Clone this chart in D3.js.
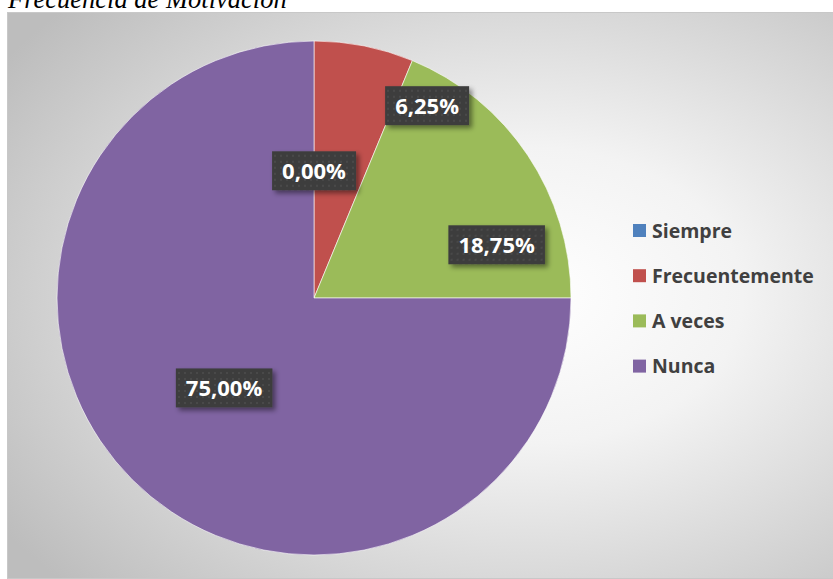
<!DOCTYPE html>
<html>
<head>
<meta charset="utf-8">
<script src="https://cdn.jsdelivr.net/npm/d3@7/dist/d3.min.js"></script>
<style>
  html, body { margin: 0; padding: 0; background: #ffffff; }
  svg { display: block; }
</style>
</head>
<body>
<svg id="chart" width="833" height="579"></svg>
<script>
// Frecuencia de Motivación
const categories = ["Siempre", "Frecuentemente", "A veces", "Nunca"];
const values = [0.00, 6.25, 18.75, 75.00];
const labels = ["0,00%", "6,25%", "18,75%", "75,00%"];
const colors = ["#4F81BD", "#C0504D", "#9BBB59", "#8064A2"];

const W = 833, H = 579;
const svg = d3.select("#chart");
const defs = svg.append("defs");

// chart area background: soft radial gradient
const bg = defs.append("radialGradient").attr("id", "bgGrad")
  .attr("cx", "62%").attr("cy", "50%").attr("r", "75%");
bg.append("stop").attr("offset", "0%").attr("stop-color", "#ffffff");
bg.append("stop").attr("offset", "35%").attr("stop-color", "#f3f3f3");
bg.append("stop").attr("offset", "100%").attr("stop-color", "#bdbdbd");

// dotted texture for the label boxes
const pat = defs.append("pattern").attr("id", "dots")
  .attr("width", 6).attr("height", 6).attr("patternUnits", "userSpaceOnUse");
pat.append("rect").attr("width", 6).attr("height", 6).attr("fill", "#3d3d3d");
pat.append("circle").attr("cx", 3).attr("cy", 3).attr("r", 1.1).attr("fill", "#4d4d4d");

const shadow = defs.append("filter").attr("id", "shadow")
  .attr("x", "-20%").attr("y", "-20%").attr("width", "150%").attr("height", "160%");
shadow.append("feDropShadow").attr("dx", 3).attr("dy", 3).attr("stdDeviation", 2.5)
  .attr("flood-color", "#000").attr("flood-opacity", 0.45);

// title (sits partly above the top edge)
svg.append("text")
  .attr("x", 8).attr("y", 8)
  .attr("font-family", "'Liberation Serif', 'Times New Roman', serif")
  .attr("font-style", "italic")
  .attr("font-size", 26.5)
  .attr("fill", "#000")
  .text("Frecuencia de Motivación");

// chart area
svg.append("rect")
  .attr("x", 7.5).attr("y", 12.5).attr("width", W).attr("height", 566)
  .attr("fill", "url(#bgGrad)")
  .attr("stroke", "#c8c8c8").attr("stroke-width", 1);

const cx = 314, cy = 298, R = 257;
const g = svg.append("g").attr("transform", `translate(${cx},${cy})`);

const data = categories.map((c, i) => ({ cat: c, value: values[i], label: labels[i], color: colors[i] }));

const pie = d3.pie().value(d => d.value).sort(null);
const arcs = pie(data);
const arc = d3.arc().innerRadius(0).outerRadius(R);

g.selectAll("path.slice")
  .data(arcs)
  .join("path")
  .attr("class", "slice")
  .attr("d", arc)
  .attr("fill", d => d.data.color)
  .attr("stroke", d => d.data.value > 0 ? "#ffffff" : "none")
  .attr("stroke-width", 0.6);

// best-fit label placement: radius fraction and angular nudge (degrees) from the slice middle
const labelPlace = {
  "Siempre":        { k: 0.495, nudge: 0 },
  "Frecuentemente": { k: 0.868, nudge: 19.2 },
  "A veces":        { k: 0.74,  nudge: 17.5 },
  "Nunca":          { k: 0.495, nudge: 0 }
};
const font = "'Open Sans', 'DejaVu Sans', sans-serif";

const lab = g.selectAll("g.lab")
  .data(arcs)
  .join("g")
  .attr("class", "lab")
  .attr("transform", d => {
    const p = labelPlace[d.data.cat];
    const a = (d.startAngle + d.endAngle) / 2 + p.nudge * Math.PI / 180;
    return `translate(${Math.sin(a) * R * p.k},${-Math.cos(a) * R * p.k})`;
  });

lab.each(function(d) {
  const sel = d3.select(this);
  const t = sel.append("text")
    .attr("text-anchor", "middle")
    .attr("dy", "0.36em")
    .attr("font-family", font)
    .attr("font-weight", "bold")
    .attr("font-size", 22)
    .attr("fill", "#ffffff")
    .text(d.data.label);
  const bb = t.node().getBBox();
  const padX = 10, h = 39;
  sel.insert("rect", "text")
    .attr("x", bb.x - padX).attr("y", -h / 2)
    .attr("width", bb.width + 2 * padX).attr("height", h)
    .attr("fill", "url(#dots)")
    .attr("filter", "url(#shadow)");
});

// legend
const legend = svg.append("g").attr("transform", "translate(633,224)");
const item = legend.selectAll("g.item")
  .data(data)
  .join("g")
  .attr("class", "item")
  .attr("transform", (d, i) => `translate(0,${i * 45.2})`);
item.append("rect")
  .attr("width", 13).attr("height", 13)
  .attr("fill", d => d.color);
item.append("text")
  .attr("x", 19).attr("y", 6.5).attr("dy", "0.36em")
  .attr("font-family", font)
  .attr("font-weight", "bold")
  .attr("font-size", 19.5)
  .attr("fill", "#404040")
  .text(d => d.cat);
</script>
</body>
</html>
